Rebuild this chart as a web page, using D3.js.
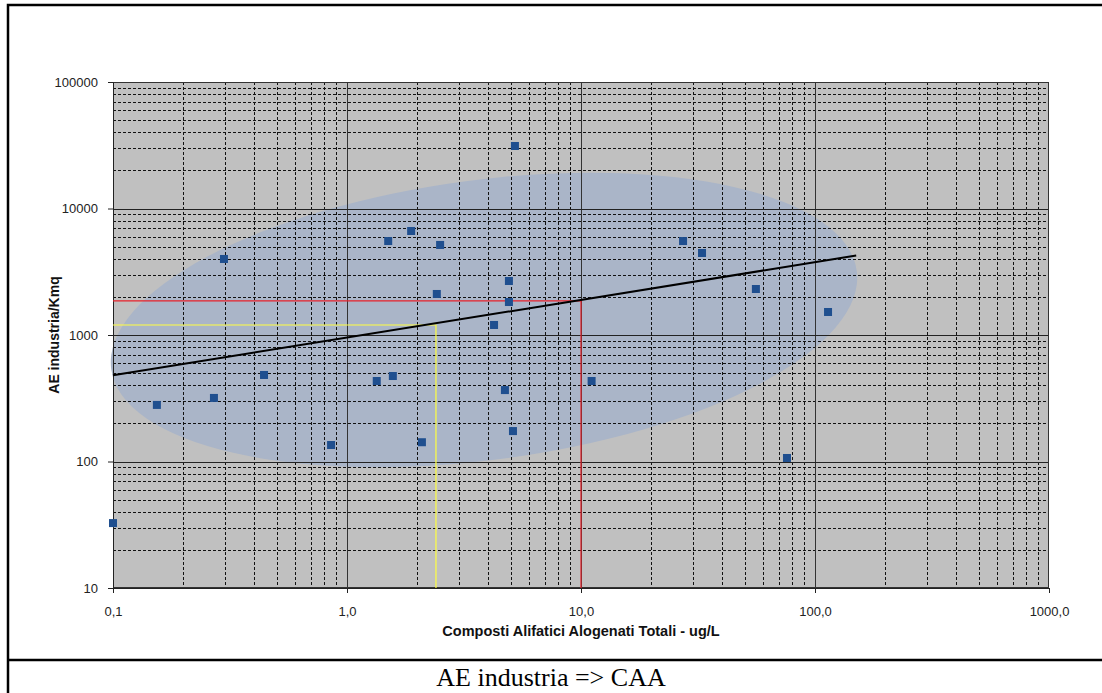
<!DOCTYPE html>
<html><head><meta charset="utf-8">
<script src="https://cdn.jsdelivr.net/npm/d3@7"></script>
<style>body{margin:0;background:#fff}svg{display:block}</style>
</head><body>
<svg id="c" width="1102" height="693"></svg>
<script>
// Data
const xValues = [0.1, 0.154, 0.27, 0.298, 0.442, 0.855, 1.34, 1.5, 1.57, 1.88, 2.09, 2.42, 2.5, 4.25, 5.22, 4.92, 4.92, 4.73, 5.12, 11.1, 27.3, 32.9, 55.9, 113.7, 75.9];
const yValues = [32.6, 280, 318, 3990, 483, 135, 433, 5530, 474, 6640, 142, 2110, 5150, 1200, 31200, 2673, 1823, 367, 174, 433, 5530, 4450, 2310, 1520, 106.6];
const trendX = [0.1, 150];
const trendY = [480, 4250];
const redPathX = [0.1, 10, 10];
const redPathY = [1858, 1858, 10];
const yellowPathX = [0.1, 2.4, 2.4];
const yellowPathY = [1200, 1200, 10];
const xTickValues = [0.1, 1, 10, 100, 1000];
const xTickLabels = ["0,1", "1,0", "10,0", "100,0", "1000,0"];
const yTickValues = [10, 100, 1000, 10000, 100000];
const yTickLabels = ["10", "100", "1000", "10000", "100000"];
const xTitle = "Composti Alifatici Alogenati Totali - ug/L";
const yTitle = "AE industria/Kmq";
const caption = "AE industria => CAA";

const svg = d3.select("#c");
const L = 113, R = 1049, T = 82, B = 588;
const x = d3.scaleLog().domain([0.1, 1000]).range([L, R]);
const y = d3.scaleLog().domain([10, 100000]).range([B, T]);
const sans = "Arial, 'Liberation Sans', sans-serif";

// frame
svg.append("path").attr("d", "M8,693 L8,5 L1102,5").attr("fill","none").attr("stroke","#000").attr("stroke-width",2.5);
svg.append("line").attr("x1",8).attr("x2",1102).attr("y1",660).attr("y2",660).attr("stroke","#000").attr("stroke-width",2.5);

// plot bg
svg.append("rect").attr("x",L).attr("y",T).attr("width",R-L).attr("height",B-T).attr("fill","#c0c0c0");

// ellipse (highlight area)
const ecx = 484, ecy = 320;
svg.append("ellipse").attr("cx", ecx).attr("cy", ecy).attr("rx", 376).attr("ry", 140)
  .attr("transform", `rotate(-7.5 ${ecx} ${ecy})`)
  .attr("fill", "#aab5c8");

// minor grid
const minorX = [], minorY = [];
for (let d = -1; d < 3; d++) for (let k = 2; k <= 9; k++) minorX.push(k * Math.pow(10, d));
for (let d = 1; d < 5; d++) for (let k = 2; k <= 9; k++) minorY.push(k * Math.pow(10, d));
const g = svg.append("g");
g.selectAll(".mx").data(minorX).join("line").attr("x1", d=>Math.round(x(d))+0.5).attr("x2", d=>Math.round(x(d))+0.5)
  .attr("y1", T).attr("y2", B).attr("stroke", "#111").attr("stroke-dasharray", "3,2");
g.selectAll(".my").data(minorY).join("line").attr("y1", d=>Math.round(y(d))+0.5).attr("y2", d=>Math.round(y(d))+0.5)
  .attr("x1", L).attr("x2", R).attr("stroke", "#111").attr("stroke-dasharray", "3,2");
g.selectAll(".Mx").data(xTickValues.slice(1,-1)).join("line").attr("x1", d=>Math.round(x(d))+0.5).attr("x2", d=>Math.round(x(d))+0.5)
  .attr("y1", T).attr("y2", B).attr("stroke", "#333");
g.selectAll(".My").data(yTickValues.slice(1,-1)).join("line").attr("y1", d=>Math.round(y(d))+0.5).attr("y2", d=>Math.round(y(d))+0.5)
  .attr("x1", L).attr("x2", R).attr("stroke", "#222");

// border of plot
svg.append("rect").attr("x",L+0.5).attr("y",T+0.5).attr("width",R-L-1).attr("height",B-T-1).attr("fill","none").attr("stroke","#333");

// axes
const xAxis = d3.axisBottom(x).tickValues(xTickValues).tickFormat((d,i)=>xTickLabels[i]).tickSize(5).tickPadding(14);
const yAxis = d3.axisLeft(y).tickValues(yTickValues).tickFormat((d,i)=>yTickLabels[i]).tickSize(5).tickPadding(10);
const gx = svg.append("g").attr("transform", `translate(0,${B})`).call(xAxis);
const gy = svg.append("g").attr("transform", `translate(${L},0)`).call(yAxis);
[gx, gy].forEach(a => {
  a.select(".domain").attr("stroke", "#222");
  a.selectAll(".tick line").attr("stroke", "#222");
  a.selectAll("text").attr("font-family", sans).attr("font-size", 13).attr("fill", "#222");
});

// reference lines
const line = d3.line().x(d=>x(d[0])).y(d=>y(d[1]));
svg.append("path").attr("d", line(redPathX.map((v,i)=>[v, redPathY[i]]))).attr("fill","none").attr("stroke","#e8202a").attr("stroke-width",1.2);
svg.append("path").attr("d", line(yellowPathX.map((v,i)=>[v, yellowPathY[i]]))).attr("fill","none").attr("stroke","#ffff40").attr("stroke-width",1.2);

// trend
svg.append("path").attr("d", line(trendX.map((v,i)=>[v, trendY[i]]))).attr("fill","none").attr("stroke","#000").attr("stroke-width",2);

// points
svg.selectAll(".pt").data(xValues.map((v,i)=>[v, yValues[i]])).join("rect")
  .attr("x", d=>x(d[0])-4).attr("y", d=>y(d[1])-4).attr("width", 8).attr("height", 8).attr("fill", "#1f4f8f");

// titles
svg.append("text").attr("x", (L+R)/2).attr("y", 636).attr("text-anchor","middle")
  .attr("font-family",sans).attr("font-size",14.5).attr("font-weight","bold").attr("fill","#111").text(xTitle);
svg.append("text").attr("transform", `translate(59,${(T+B)/2}) rotate(-90)`).attr("text-anchor","middle")
  .attr("font-family",sans).attr("font-size",14).attr("font-weight","bold").attr("fill","#111").text(yTitle);
svg.append("text").attr("x", 551).attr("y", 686).attr("text-anchor","middle")
  .attr("font-family","'Liberation Serif', 'Times New Roman', serif").attr("font-size",26).text(caption);
</script>
</body></html>
